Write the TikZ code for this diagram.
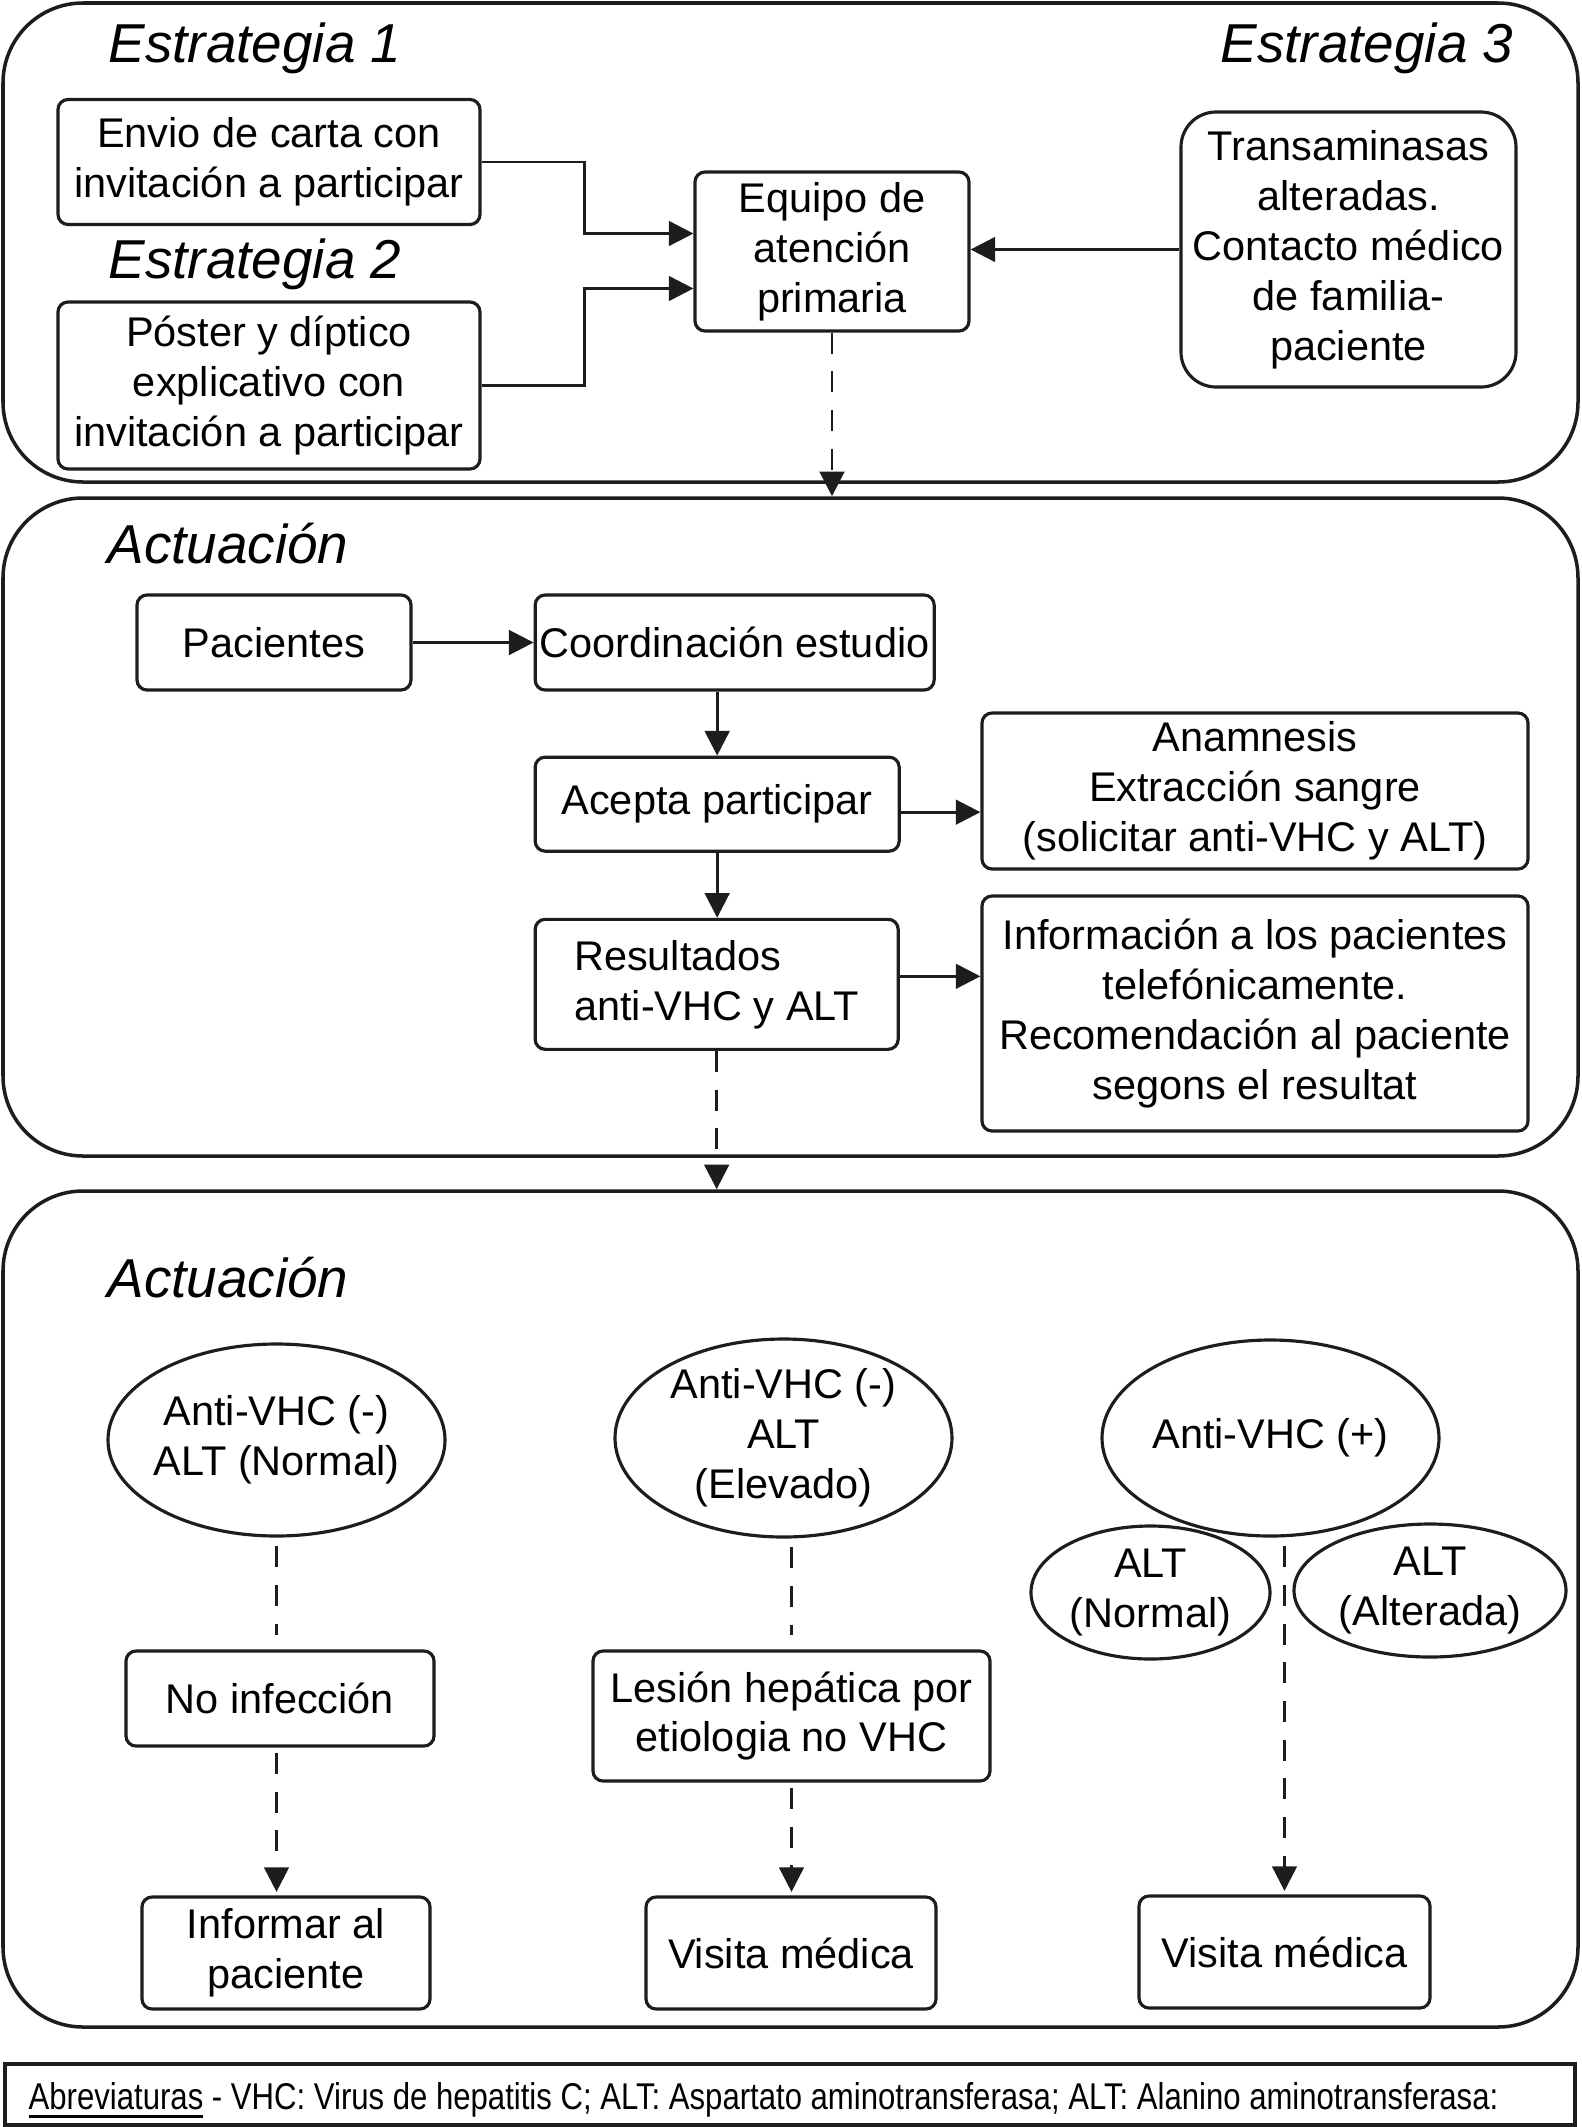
\documentclass[tikz,border=0pt]{standalone}
\usepackage{fontspec}
\setmainfont{Liberation Sans}
\newfontfamily\narrowfont{Liberation Sans}[FakeStretch=0.835]
\usepackage{tikz}
\usetikzlibrary{
    shapes.geometric,
    arrows.meta,
    positioning,
    calc
}
\definecolor{Cline}{RGB}{30, 28, 29}
\newlength{\ulwidth}
\newcommand{\thickul}[1]{\settowidth{\ulwidth}{#1}\rlap{\rule[-2.6pt]{\ulwidth}{1pt}}#1}
\tikzset{
    secbox/.style={
        rectangle, rounded corners=0.8cm, draw=Cline, line width=1.0pt,
        minimum width=15.75cm, inner sep=0pt
    },
    procbox/.style={
        rectangle, rounded corners=0.1cm, draw=Cline, line width=0.9pt,
        align=center, inner sep=1pt, font=\fontsize{11.8}{14.2}\selectfont
    },
    resell/.style={
        ellipse, draw=Cline, line width=0.9pt, align=center, inner sep=-4pt,
        font=\fontsize{11.8}{14.2}\selectfont
    },
    titletxt/.style={inner sep=0pt, font=\fontsize{15.6}{18}\selectfont\itshape},
    parr/.style={-{Triangle[length=7pt, width=7pt]}, line width=0.8pt, Cline},
    pdash/.style={parr, dash pattern=on 6pt off 5pt},
    pdashline/.style={line width=0.8pt, Cline, dash pattern=on 6pt off 5pt},
}

\begin{document}
\begin{tikzpicture}[node distance=1cm]

    \useasboundingbox (0,0) rectangle (15.81,-21.27);

    \node [secbox, minimum height=4.79cm] (sec1) at (7.905,-2.425) {};
    \node [secbox, minimum height=6.58cm] (sec2) at (7.905,-8.27) {};
    \node [secbox, minimum height=8.36cm] (sec3) at (7.905,-16.09) {};

    % Estrategias
    \node [titletxt, anchor=base west] (est1) at (1.08,-0.62) {Estrategia 1};
    \node [titletxt, anchor=base west] (est2) at (1.08,-2.78) {Estrategia 2};
    \node [titletxt, anchor=base east] (est3) at (15.14,-0.62) {Estrategia 3};

    \node [procbox, minimum width=4.22cm, minimum height=1.25cm]
        (carta) at (2.69,-1.62) {Envio de carta con\\invitación a participar};
    \node [procbox, minimum width=4.22cm, minimum height=1.67cm]
        (poster) at (2.69,-3.855) {Póster y díptico\\explicativo con\\invitación a participar};
    \node [procbox, minimum width=2.74cm, minimum height=1.59cm]
        (equipo) at (8.32,-2.515) {Equipo de\\atención\\primaria};
    \node [procbox, rounded corners=0.35cm, minimum width=3.35cm, minimum height=2.75cm]
        (transa) at (13.485,-2.495) {Transaminasas\\alteradas.\\Contacto médico\\de familia-\\paciente};

    \draw [parr] (carta.east) -- ++(1.03,0) |- ([yshift=0.18cm]equipo.west);
    \draw [parr] (poster.east) -- ++(1.03,0) |- ([yshift=-0.37cm]equipo.west);
    \draw [parr] (transa.west) -- (transa.west -| equipo.east);
    \draw [pdash] (equipo.south) -- (equipo.south |- sec2.north);

    % Actuacion
    \node [titletxt, anchor=base west] (act1) at (1.07,-5.63) {Actuación};

    \node [procbox, minimum width=2.74cm, minimum height=0.95cm]
        (pacien) at (2.74,-6.425) {Pacientes};
    \node [procbox, minimum width=3.99cm, minimum height=0.95cm, right=1.21cm of pacien]
        (coord) {Coordinación estudio};
    \node [procbox, minimum width=3.64cm, minimum height=0.94cm, below right=0.64cm and 0cm of coord.south west]
        (acepta) {Acepta participar};
    \node [procbox, align=left, minimum width=3.63cm, minimum height=1.30cm, below right=0.65cm and 0cm of acepta.south west]
        (result) {Resultados\\anti-VHC y ALT};
    \node [procbox, minimum width=5.46cm, minimum height=1.56cm]
        (anamn) at (12.55,-7.91) {Anamnesis\\Extracción sangre\\(solicitar anti-VHC y ALT)};
    \node [procbox, minimum width=5.46cm, minimum height=2.35cm]
        (inform) at (12.55,-10.135) {Información a los pacientes\\telefónicamente.\\Recomendación al paciente\\segons el resultat};

    \draw [parr] (pacien) -- (coord);
    \draw [parr] (acepta.north |- coord.south) -- (acepta.north);
    \draw [parr] (acepta.south) -- (result.north -| acepta.south);
    \draw [parr] ([yshift=-0.08cm]acepta.east) -- ([yshift=-0.08cm]acepta.east -| anamn.west);
    \draw [parr] ([yshift=0.08cm]result.east) -- ([yshift=0.08cm]result.east -| inform.west);
    \draw [pdash] (result.south) -- (result.south |- sec3.north);

    \node [titletxt, anchor=base west] (act2) at (1.07,-12.97) {Actuación};

    \node [resell, minimum width=3.37cm, minimum height=1.92cm]
        (neg1) at (2.765,-14.40) {Anti-VHC (-)\\ALT (Normal)};
    \node [resell, minimum width=3.37cm, minimum height=1.98cm]
        (neg2) at (7.835,-14.38) {Anti-VHC (-)\\ALT\\(Elevado)};
    \node [resell, minimum width=3.37cm, minimum height=1.96cm]
        (pos) at (12.705,-14.38) {Anti-VHC (+)};
    \node [resell, minimum width=2.39cm, minimum height=1.33cm]
        (altnor) at (11.505,-15.925) {ALT\\(Normal)};
    \node [resell, minimum width=2.72cm, minimum height=1.33cm]
        (altalt) at (14.30,-15.905) {ALT\\(Alterada)};

    \node [procbox, minimum width=3.08cm, minimum height=0.95cm]
        (noinf) at (2.80,-16.985) {No infección};
    \node [procbox, minimum width=3.97cm, minimum height=1.30cm]
        (lesion) at (7.915,-17.16) {Lesión hepática por\\etiologia no VHC};
    \node [procbox, minimum width=2.88cm, minimum height=1.12cm]
        (avisar) at (2.86,-19.53) {Informar al\\paciente};
    \node [procbox, minimum width=2.90cm, minimum height=1.12cm]
        (visita1) at (7.91,-19.53) {Visita médica};
    \node [procbox, minimum width=2.91cm, minimum height=1.12cm]
        (visita2) at (12.845,-19.52) {Visita médica};

    \draw [pdashline, shorten <=2.5pt, shorten >=4pt] (neg1.south) -- (neg1.south |- noinf.north);
    \draw [pdash, shorten <=1.5pt, shorten >=1pt] (noinf.south -| neg1.south) -- (avisar.north -| neg1.south);
    \draw [pdashline, shorten <=2.5pt, shorten >=4pt] (lesion.north |- neg2.south) -- (lesion.north);
    \draw [pdash, shorten <=1.5pt, shorten >=1pt] (lesion.south) -- (visita1.north -| lesion.south);
    \draw [pdash, shorten <=2.5pt, shorten >=1pt] (visita2.north |- pos.south) -- (visita2.north);

    \node [rectangle, draw=Cline, line width=1.0pt, minimum width=15.70cm, minimum height=0.61cm]
        (foot) at (7.90,-20.945) {};
    \node [anchor=base west, inner sep=0pt, font=\narrowfont\fontsize{10.6}{12}\selectfont]
        (abrev) at (0.28,-21.09) {\thickul{Abreviaturas} - VHC: Virus de hepatitis C; ALT: Aspartato aminotransferasa; ALT: Alanino aminotransferasa:};

\end{tikzpicture}
\end{document}
